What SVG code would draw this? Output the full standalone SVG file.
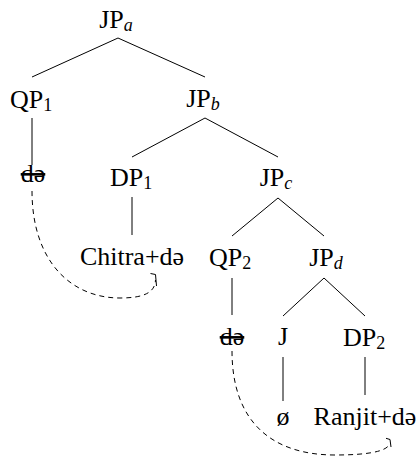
<svg xmlns="http://www.w3.org/2000/svg" width="419" height="463" viewBox="0 0 419 463">
<style>
.t{font-size:26px;fill:#000;text-anchor:middle}
.sub{font-size:18px}
.it{font-style:italic}
.strike{text-decoration:line-through}
.edge{stroke:#000;stroke-width:1;fill:none}
.move{stroke:#000;stroke-width:1;fill:none;stroke-dasharray:5 4}
.tip{stroke:#000;stroke-width:1;fill:none}
</style>
<rect width="419" height="463" fill="#fff"/>
<g id="connectors">
<path class="edge" d="M118,38 L32,77 M118,38 L205,77"/>
<path class="edge" d="M32,118 L32,165"/>
<path class="edge" d="M205,118 L132,157 M205,118 L278,157"/>
<path class="edge" d="M132,197 L132,235"/>
<path class="edge" d="M278,198 L232,236 M278,198 L324,236"/>
<path class="edge" d="M232,278 L232,315"/>
<path class="edge" d="M324,278 L283,316 M324,278 L365,316"/>
<path class="edge" d="M283,357 L283,401"/>
<path class="edge" d="M365,357 L365,395"/>
<path class="move" d="M32,191 C32,260 70,298 120,298 C145,298 155,292 155.5,280"/>
<path class="tip" d="M150.5,273.5 L155.5,274.5 L156.5,286"/>
<path class="move" d="M232,351 C232,420 270,455 335,455 C365,455 385,452 389,445"/>
<path class="tip" d="M386,438.3 L390,439.5 L391,447"/>
</g>
<g font-family="Liberation Serif, Times New Roman, DejaVu Serif, serif">
<g id="JPa"><text class="t" x="116" y="27.5">JP<tspan class="sub it" dy="3">a</tspan></text></g>
<g id="QP1"><text class="t" x="31" y="107.5">QP<tspan class="sub" dy="3">1</tspan></text></g>
<g id="JPb"><text class="t" x="203" y="107">JP<tspan class="sub it" dy="3">b</tspan></text></g>
<g id="de1"><text class="t strike" x="33" y="182">də</text></g>
<g id="DP1"><text class="t" x="131" y="185.5">DP<tspan class="sub" dy="3">1</tspan></text></g>
<g id="JPc"><text class="t" x="276" y="186">JP<tspan class="sub it" dy="3">c</tspan></text></g>
<g id="Chitra"><text class="t" x="132" y="265">Chitra+də</text></g>
<g id="QP2"><text class="t" x="230" y="265.5">QP<tspan class="sub" dy="3">2</tspan></text></g>
<g id="JPd"><text class="t" x="326" y="265.5">JP<tspan class="sub it" dy="3">d</tspan></text></g>
<g id="de2"><text class="t strike" x="232" y="345">də</text></g>
<g id="J"><text class="t" x="283" y="345">J</text></g>
<g id="DP2"><text class="t" x="364" y="345.5">DP<tspan class="sub" dy="3">2</tspan></text></g>
<g id="null"><text class="t" x="283" y="424.5">ø</text></g>
<g id="Ranjit"><text class="t" x="365" y="424.5">Ranjit+də</text></g>
</g>
</svg>
